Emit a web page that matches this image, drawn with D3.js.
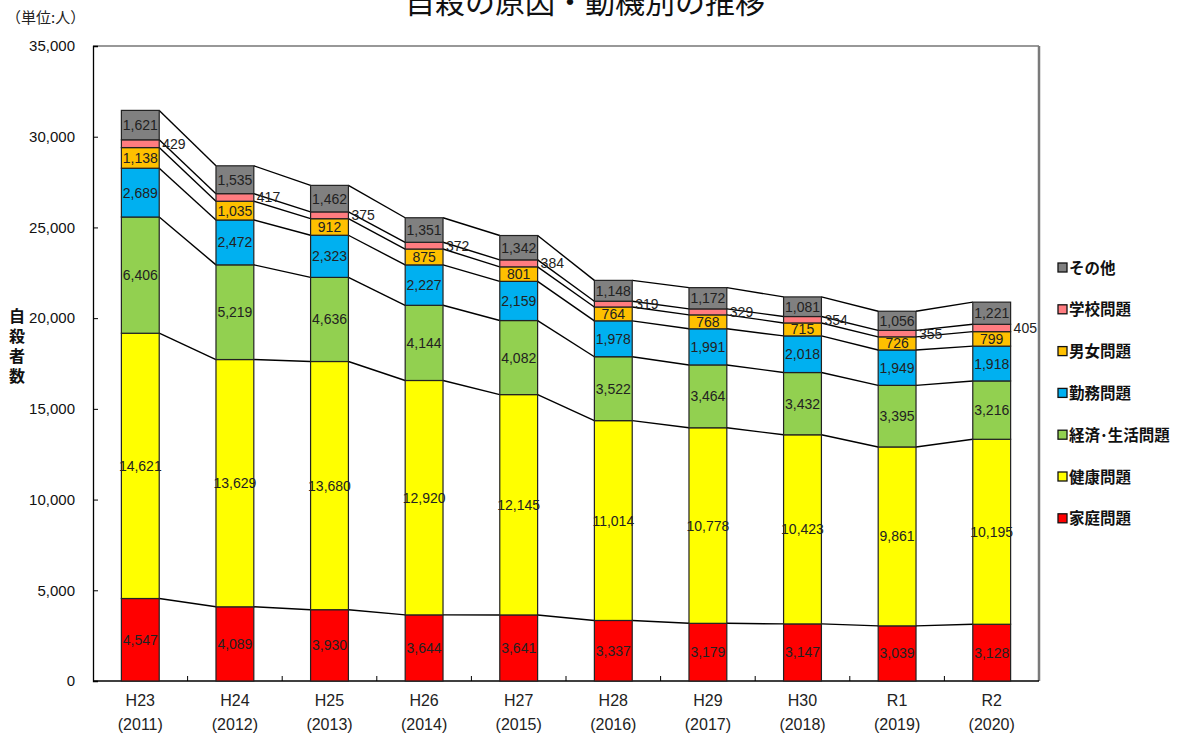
<!DOCTYPE html>
<html>
<head>
<meta charset="utf-8">
<script src="https://cdn.jsdelivr.net/npm/d3@7"></script>
<style>
  body { margin: 0; background: #fff; }
  svg text { font-family: "Liberation Sans Narrow", "Arial Narrow", "Liberation Sans", sans-serif; }
  .jp { font-family: "Noto Sans CJK JP", sans-serif !important; }
</style>
</head>
<body>
<div id="chart"></div>
<script>
// categories
var years = ["H23", "H24", "H25", "H26", "H27", "H28", "H29", "H30", "R1", "R2"];
var yearsWest = ["(2011)", "(2012)", "(2013)", "(2014)", "(2015)", "(2016)", "(2017)", "(2018)", "(2019)", "(2020)"];

// series values (bottom to top)
var katei   = [4547, 4089, 3930, 3644, 3641, 3337, 3179, 3147, 3039, 3128];
var kenkou  = [14621, 13629, 13680, 12920, 12145, 11014, 10778, 10423, 9861, 10195];
var keizai  = [6406, 5219, 4636, 4144, 4082, 3522, 3464, 3432, 3395, 3216];
var kinmu   = [2689, 2472, 2323, 2227, 2159, 1978, 1991, 2018, 1949, 1918];
var danjo   = [1138, 1035, 912, 875, 801, 764, 768, 715, 726, 799];
var gakkou  = [429, 417, 375, 372, 384, 319, 329, 354, 355, 405];
var sonota  = [1621, 1535, 1462, 1351, 1342, 1148, 1172, 1081, 1056, 1221];

var seriesNames = ["家庭問題", "健康問題", "経済･生活問題", "勤務問題", "男女問題", "学校問題", "その他"];
var seriesColors = ["#ff0000", "#ffff00", "#92d050", "#00b0f0", "#ffc000", "#ff7c80", "#808080"];
var yTicks = [0, 5000, 10000, 15000, 20000, 25000, 30000, 35000];

var svgWidth = 1179;
var svgHeight = 746;
var plot = { left: 93, right: 1039, top: 46, bottom: 681 };

var svg = d3.select("#chart")
  .append("svg")
  .attr("width", svgWidth)
  .attr("height", svgHeight);

// build a table for the stack
var allValues = [katei, kenkou, keizai, kinmu, danjo, gakkou, sonota];
var table = years.map(function(y, i) {
  var row = { year: y };
  seriesNames.forEach(function(n, k) { row[n] = allValues[k][i]; });
  return row;
});
var stacked = d3.stack().keys(seriesNames)(table);

var x = d3.scaleBand()
  .domain(years)
  .range([plot.left, plot.right])
  .padding(0);
var barW = x.bandwidth() * 0.4;
var barX = function(yr) { return x(yr) + (x.bandwidth() - barW) / 2; };

var y = d3.scaleLinear()
  .domain([0, 35000])
  .range([plot.bottom, plot.top]);

// frame
svg.append("line")
  .attr("x1", plot.left).attr("x2", plot.right)
  .attr("y1", plot.top).attr("y2", plot.top)
  .attr("stroke", "#333").attr("stroke-width", 1.2);
svg.append("line")
  .attr("x1", plot.right).attr("x2", plot.right)
  .attr("y1", plot.top).attr("y2", plot.bottom)
  .attr("stroke", "#7a7a7a").attr("stroke-width", 2.5);

// y axis
var leftAxis = d3.axisLeft(y)
  .tickValues(yTicks)
  .tickSize(-5)
  .tickPadding(18)
  .tickFormat(d3.format(","));
var yAxisG = svg.append("g")
  .attr("transform", `translate(${plot.left},0)`)
  .call(leftAxis);
yAxisG.select(".domain").attr("stroke", "#000").attr("stroke-width", 1.3);
yAxisG.selectAll(".tick line").attr("stroke", "#000");
yAxisG.selectAll(".tick text")
  .attr("font-size", 15)
  .attr("fill", "#111")
  .style("font-family", "'Liberation Sans Narrow', 'Arial Narrow', sans-serif");

// x axis (ticks between categories)
svg.append("line")
  .attr("x1", plot.left).attr("x2", plot.right)
  .attr("y1", plot.bottom).attr("y2", plot.bottom)
  .attr("stroke", "#000").attr("stroke-width", 1.5);
svg.selectAll(".xtick")
  .data(years.slice(1))
  .enter()
  .append("line")
  .attr("x1", d => x(d)).attr("x2", d => x(d))
  .attr("y1", plot.bottom).attr("y2", plot.bottom - 5)
  .attr("stroke", "#000");

var xLab = svg.append("g");
years.forEach(function(yr, i) {
  var cx = x(yr) + x.bandwidth() / 2;
  xLab.append("text")
    .attr("x", cx).attr("y", 706)
    .attr("text-anchor", "middle")
    .attr("font-size", 16)
    .attr("fill", "#222")
    .text(yr);
  xLab.append("text")
    .attr("x", cx).attr("y", 730)
    .attr("text-anchor", "middle")
    .attr("font-size", 16)
    .attr("fill", "#222")
    .text(yearsWest[i]);
});

// connector lines between bar tops
var lines = svg.append("g");
stacked.forEach(function(s) {
  for (var i = 0; i < years.length - 1; i++) {
    lines.append("line")
      .attr("x1", barX(years[i]) + barW)
      .attr("y1", y(s[i][1]))
      .attr("x2", barX(years[i + 1]))
      .attr("y2", y(s[i + 1][1]))
      .attr("stroke", "#000")
      .attr("stroke-width", 1.4);
  }
});

// bars
var groups = svg.selectAll(".series")
  .data(stacked)
  .enter()
  .append("g")
  .attr("fill", (d, i) => seriesColors[i]);

groups.selectAll("rect")
  .data(d => d)
  .enter()
  .append("rect")
  .attr("x", d => barX(d.data.year))
  .attr("y", d => y(d[1]))
  .attr("width", barW)
  .attr("height", d => y(d[0]) - y(d[1]))
  .attr("stroke", "#222")
  .attr("stroke-width", 1.2);

// value labels
stacked.forEach(function(s, k) {
  s.forEach(function(d) {
    var v = d[1] - d[0];
    var outside = seriesNames[k] === "学校問題";
    svg.append("text")
      .attr("x", outside ? barX(d.data.year) + barW + 3 : barX(d.data.year) + barW / 2)
      .attr("y", (y(d[0]) + y(d[1])) / 2)
      .attr("dy", "0.36em")
      .attr("text-anchor", outside ? "start" : "middle")
      .attr("font-size", 14)
      .attr("fill", "#222")
      .text(d3.format(",")(v));
  });
});

// legend
var legend = svg.append("g").attr("transform", "translate(1058,0)");
var legendOrder = seriesNames.slice().reverse();
legendOrder.forEach(function(name, i) {
  var ly = 268 + i * 41.8;
  legend.append("rect")
    .attr("x", 0).attr("y", ly - 5)
    .attr("width", 9).attr("height", 9)
    .attr("fill", seriesColors[seriesNames.indexOf(name)])
    .attr("stroke", "#111").attr("stroke-width", 1.3);
  legend.append("text")
    .attr("class", "jp")
    .attr("x", 11).attr("y", ly)
    .attr("dy", "0.36em")
    .attr("font-size", 15.5)
    .attr("font-weight", "bold")
    .attr("fill", "#111")
    .text(name);
});

// title and unit
svg.append("text")
  .attr("class", "jp")
  .attr("x", 585).attr("y", 13)
  .attr("text-anchor", "middle")
  .attr("font-size", 30)
  .attr("fill", "#111")
  .text("自殺の原因・動機別の推移");

svg.append("text")
  .attr("class", "jp")
  .attr("x", 6).attr("y", 23)
  .attr("font-size", 15)
  .attr("fill", "#222")
  .text("（単位:人）");

// y axis title, stacked vertical
var yTitle = ["自", "殺", "者", "数"];
yTitle.forEach(function(ch, i) {
  svg.append("text")
    .attr("class", "jp")
    .attr("x", 17).attr("y", 316 + i * 20)
    .attr("dy", "0.36em")
    .attr("text-anchor", "middle")
    .attr("font-size", 16)
    .attr("font-weight", "bold")
    .attr("fill", "#111")
    .text(ch);
});
</script>
</body>
</html>
